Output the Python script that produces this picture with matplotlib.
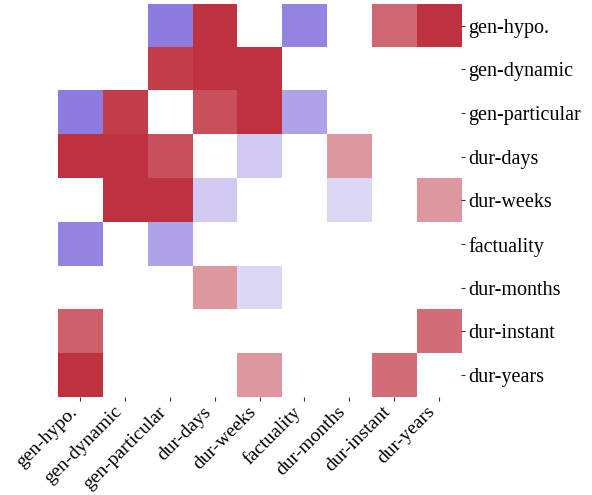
import numpy as np
import matplotlib
matplotlib.use("Agg")
import matplotlib.pyplot as plt
from matplotlib.colors import LinearSegmentedColormap

labels = ["gen-hypo.", "gen-dynamic", "gen-particular", "dur-days", "dur-weeks",
          "factuality", "dur-months", "dur-instant", "dur-years"]

n = np.nan
row_gen_hypo = [n, n, -1.0, 1.0, n, -0.93, n, 0.74, 1.0]
row_gen_dynamic = [n, n, 0.94, 1.0, 1.0, n, n, n, n]
row_gen_particular = [-1.0, 0.94, n, 0.85, 1.0, -0.7, n, n, n]
row_dur_days = [1.0, 1.0, 0.85, n, -0.4, n, 0.5, n, n]
row_dur_weeks = [n, 1.0, 1.0, -0.4, n, n, -0.3, n, 0.5]
row_factuality = [-0.93, n, -0.7, n, n, n, n, n, n]
row_dur_months = [n, n, n, 0.5, -0.3, n, n, n, n]
row_dur_instant = [0.78, n, n, n, n, n, n, n, 0.71]
row_dur_years = [1.0, n, n, n, 0.5, n, n, 0.71, n]

values = np.array([row_gen_hypo, row_gen_dynamic, row_gen_particular, row_dur_days,
                   row_dur_weeks, row_factuality, row_dur_months, row_dur_instant,
                   row_dur_years])

cmap = LinearSegmentedColormap.from_list("pw_r", ["#8e7bdf", "#ffffff", "#be3240"])
cmap.set_bad("white")

plt.rcParams['font.family'] = ['Liberation Serif', 'DejaVu Serif']

fig = plt.figure(figsize=(5.92, 4.95), dpi=100)
ax = fig.add_axes([0.098, 0.198, 0.681, 0.794])
ax.imshow(np.ma.masked_invalid(values), cmap=cmap, vmin=-1, vmax=1,
          aspect='auto', interpolation='nearest')
for s in ax.spines.values():
    s.set_visible(False)
ax.set_xticks(range(len(labels)))
ax.set_xticklabels(labels, rotation=45, ha='right', fontsize=14)
ax.set_yticks(range(len(labels)))
ax.set_yticklabels(labels, fontsize=14.5)
ax.yaxis.tick_right()
ax.tick_params(axis='both', length=3, width=0.8, color='#333333', pad=2)
ax.tick_params(axis='x', pad=1.5)
fig.savefig("out.png", dpi=100)
